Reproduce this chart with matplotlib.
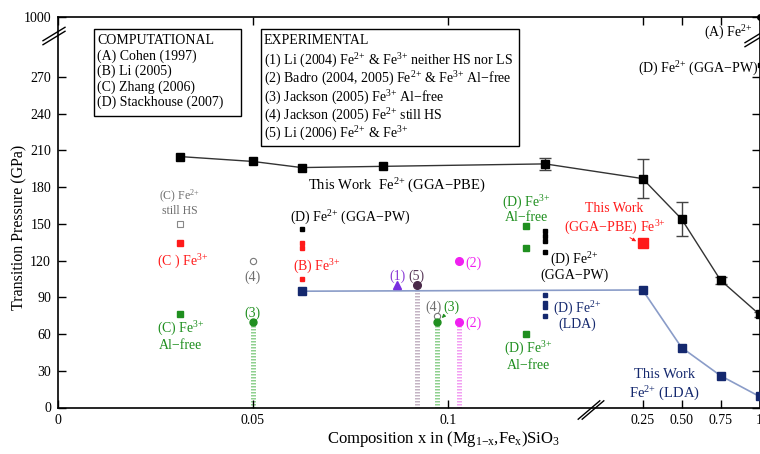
import numpy as np
import matplotlib
matplotlib.use('Agg')
import matplotlib.pyplot as plt
from matplotlib.patches import Rectangle

plt.rcParams['font.family'] = 'Liberation Serif'
plt.rcParams['mathtext.fontset'] = 'custom'
plt.rcParams['mathtext.rm'] = 'Liberation Serif'
plt.rcParams['mathtext.it'] = 'Liberation Serif:italic'
plt.rcParams['mathtext.bf'] = 'Liberation Serif:bold'
plt.rcParams['font.size'] = 10

# this work, GGA-PBE Fe2+ (with error bars)
pbe_x = [1/32, 0.05, 1/16, 1/12, 0.125, 0.25, 0.5, 0.75, 1.0]
pbe_y = [205, 201, 196, 197, 199, 187, 154, 104, 76]
pbe_err = [0, 0, 0, 0, 5, 16, 14, 3, 2]
# this work, LDA Fe2+
lda_x = [1/16, 0.25, 0.5, 0.75, 1.0]
lda_y = [95, 96, 49, 26, 9]
# this work, GGA-PBE Fe3+
pbe3_x = [0.25]
pbe3_y = [134]

# computational literature
cohen_x = [1.0]
cohen_y = [1000]
li05_x = [1/16, 1/16, 1/16]
li05_y = [134, 130, 105]
zhang_hs_x = [1/32]
zhang_hs_y = [150]
zhang_fe3_x = [1/32]
zhang_fe3_y = [134]
zhang_al_x = [1/32]
zhang_al_y = [76]
stack_pw_x = [1/16, 0.125, 0.125, 0.125, 0.125, 1.0]
stack_pw_y = [146, 144, 140, 136, 127, 280]
stack_lda_x = [0.125, 0.125, 0.125, 0.125]
stack_lda_y = [92, 85, 82, 75]
stack_fe3_x = [0.12, 0.12, 0.12]
stack_fe3_y = [148, 130, 60]

# experiments
exp1_x = [0.087]
exp1_y = [100]
exp2_x = [0.103, 0.103]
exp2_y = [120, 70]
exp3_x = [0.05, 0.0972]
exp3_y = [70, 70]
exp4_x = [0.05, 0.0972]
exp4_y = [120, 75]
exp5_x = [0.092]
exp5_y = [100]

x_ticks = [0, 0.05, 0.1, 0.25, 0.5, 0.75, 1.0]
x_ticklabels = ['0', '0.05', '0.1', '0.25', '0.50', '0.75', '1']
y_ticks = [0, 30, 60, 90, 120, 150, 180, 210, 240, 270, 1000]
y_ticklabels = ['0', '30', '60', '90', '120', '150', '180', '210', '240', '270', '1000']

RED = '#ff1a1a'
GREEN = '#1f8f1f'
NAVY = '#14286e'
MAGENTA = '#f020f0'
GRAY = '#6e6e6e'

FE2 = 'Fe$^{2{+}}$'
FE3 = 'Fe$^{3{+}}$'

# broken axes as piecewise scales
XB = 0.1364


def fwd_x(x):
    x = np.asarray(x, dtype=float)
    mid = XB + (x - XB) * (0.15 - XB) / (0.25 - XB)
    hi = 0.15 + (x - 0.25) * 0.04
    return np.where(x <= XB, x, np.where(x < 0.25, mid, hi))


def inv_x(u):
    u = np.asarray(u, dtype=float)
    mid = XB + (u - XB) * (0.25 - XB) / (0.15 - XB)
    hi = 0.25 + (u - 0.15) / 0.04
    return np.where(u <= XB, u, np.where(u < 0.15, mid, hi))


def fwd_y(y):
    y = np.asarray(y, dtype=float)
    return np.where(y <= 300, y, 300 + (y - 300) * 19 / 700)


def inv_y(v):
    v = np.asarray(v, dtype=float)
    return np.where(v <= 300, v, 300 + (v - 300) * 700 / 19)


fig = plt.figure(figsize=(7.6, 4.54), dpi=100)
ax = fig.add_axes([58 / 760, 46.5 / 454, 701.5 / 760, 390.5 / 454])
ax.set_xscale('function', functions=(fwd_x, inv_x))
ax.set_yscale('function', functions=(fwd_y, inv_y))
ax.set_xlim(0, 1.0)
ax.set_ylim(0, 1000)

# hatched bars under experimental points
band = dict(linewidth=3.6, linestyles=(0, (0.3, 0.3)), zorder=1)
ax.vlines(exp3_x, 0, exp3_y, colors='#8fd08f', **band)
ax.vlines(exp2_x[1:], 0, exp2_y[1:], colors='#f2a0f2', **band)
ax.vlines(exp5_x, 0, exp5_y, colors='#c4b4c4', **band)

# this work
ax.plot(pbe_x, pbe_y, '-', color='#333333', lw=1, zorder=3, clip_on=False)
ax.plot(pbe_x, pbe_y, 's', color='black', ms=6, zorder=4, clip_on=False)
ex = [x for x, e in zip(pbe_x, pbe_err) if e > 0]
ey = [y for y, e in zip(pbe_y, pbe_err) if e > 0]
ee = [e for e in pbe_err if e > 0]
ax.errorbar(ex, ey, yerr=ee, fmt='none', ecolor='#444444', elinewidth=1,
            capsize=4.5, capthick=1, zorder=3, clip_on=False)
ax.plot(lda_x, lda_y, '-', color='#8a9cc8', lw=1.2, zorder=3, clip_on=False)
ax.plot(lda_x, lda_y, 's', color=NAVY, ms=6, zorder=4, clip_on=False)
ax.plot(pbe3_x, pbe3_y, 's', color=RED, ms=7, zorder=4)

# computational points
ax.plot(cohen_x, cohen_y, 'o', color='black', ms=4, clip_on=False, zorder=5)
ax.plot(li05_x, li05_y, 's', color=RED, ms=3.5, lw=0)
ax.plot(zhang_hs_x, zhang_hs_y, 's', mfc='white', mec='#888888', ms=4, mew=0.8)
ax.plot(zhang_fe3_x, zhang_fe3_y, 's', color=RED, ms=4)
ax.plot(zhang_al_x, zhang_al_y, 's', color=GREEN, ms=4)
ax.plot(stack_pw_x, stack_pw_y, 's', color='black', ms=2.8, clip_on=False)
ax.plot(stack_lda_x, stack_lda_y, 's', color=NAVY, ms=2.8)
ax.plot(stack_fe3_x, stack_fe3_y, 's', color=GREEN, ms=4)

# experimental points
ax.plot(exp1_x, exp1_y, '^', color='#7a2ee0', ms=5.5, zorder=4)
ax.plot(exp5_x, exp5_y, 'o', color='#4a2a4a', ms=5.5, zorder=4)
ax.plot(exp2_x, exp2_y, 'o', color=MAGENTA, ms=5.5, zorder=4)
ax.plot(exp4_x, exp4_y, 'o', mfc='white', mec='#777777', ms=4.5, mew=0.8, zorder=4)
ax.plot(exp3_x, exp3_y, 'o', color=GREEN, ms=5, zorder=5)


def label(x, y, lines, color, fs=10, ha='center', step=11.5):
    for i, line in enumerate(lines):
        ax.annotate(line, xy=(x, y), xytext=(0, -i * step), textcoords='offset points',
                    ha=ha, va='baseline', color=color, fontsize=fs)


label(1/32, 169.5, ['(C) ' + FE2, 'still HS'], GRAY, fs=8.5, step=10)
label(0.032, 115.4, ['(C ) ' + FE3], RED)
label(0.0315, 61.2, ['(C) ' + FE3, 'Al\u2212free'], GREEN)
label(0.05, 103.6, ['(4)'], GRAY)
label(0.05, 74.0, ['(3)'], GREEN)
label(0.0595, 152, ['(D) ' + FE2 + ' (GGA\u2212PW)'], 'black', ha='left')
label(0.0664, 111.4, ['(B) ' + FE3], RED)
label(0.0641, 177.9, ['This Work  ' + FE2 + ' (GGA\u2212PBE)'], 'black', fs=10.5, ha='left')
label(0.0871, 104.4, ['(1)'], '#8a3ad6')
label(0.0921, 104.0, ['(5)'], '#5a3a5a')
label(0.0964, 79.1, ['(4)'], GRAY)
label(0.1009, 79.1, ['(3)'], GREEN)
label(0.1046, 115.3, ['(2)'], MAGENTA, ha='left')
label(0.1046, 65.5, ['(2)'], MAGENTA, ha='left')
label(0.1202, 163.6, ['(D) ' + FE3, 'Al\u2212free'], GREEN, step=10)
label(0.1326, 117.2, ['(D) ' + FE2, '(GGA\u2212PW)'], 'black', step=11)
label(0.1333, 77.3, ['(D) ' + FE2, '(LDA)'], NAVY, step=10.5)
label(0.1208, 44.6, ['(D) ' + FE3, 'Al\u2212free'], GREEN, step=11.5)
label(0.190, 159.3, ['This Work', '(GGA\u2212PBE) ' + FE3], RED, step=14)
label(0.391, 24.2, ['This Work', FE2 + ' (LDA)'], NAVY, fs=10.5, step=14.5)
label(0.801, 407, ['(A) ' + FE2], 'black')
label(0.609, 273.1, ['(D) ' + FE2 + ' (GGA\u2212PW)'], 'black')

ax.annotate('', xy=(0.098, 71.4), xytext=(0.0997, 77.1),
            arrowprops=dict(arrowstyle='-|>', color=GREEN, lw=0.7, mutation_scale=5))
ax.annotate('', xy=(0.2414, 134.6), xytext=(0.2178, 139.9),
            arrowprops=dict(arrowstyle='-|>', color=RED, lw=0.7, mutation_scale=5))

# legend-like boxes
ax.add_patch(Rectangle((0.0517, 0.7465), 0.2087, 0.222, transform=ax.transAxes,
                       fill=False, lw=1, ec='black'))
ax.add_patch(Rectangle((0.2898, 0.6704), 0.3678, 0.2981, transform=ax.transAxes,
                       fill=False, lw=1, ec='black'))
comp_lines = ['COMPUTATIONAL', '(A) Cohen (1997)', '(B) Li (2005)',
              '(C) Zhang (2006)', '(D) Stackhouse (2007)']
comp_base = [0.9301, 0.8899, 0.8507, 0.8113, 0.7729]
for t, yb in zip(comp_lines, comp_base):
    ax.text(0.0556, yb, t, transform=ax.transAxes, va='baseline', ha='left', fontsize=10)
exp_lines = ['EXPERIMENTAL',
             '(1) Li (2004) ' + FE2 + ' & ' + FE3 + ' neither HS nor LS',
             '(2) Badro (2004, 2005) ' + FE2 + ' & ' + FE3 + ' Al\u2212free',
             '(3) Jackson (2005) ' + FE3 + ' Al\u2212free',
             '(4) Jackson (2005) ' + FE2 + ' still HS',
             '(5) Li (2006) ' + FE2 + ' & ' + FE3]
exp_base = [0.9301, 0.8763, 0.8302, 0.7831, 0.7362, 0.6894]
for t, yb in zip(exp_lines, exp_base):
    ax.text(0.293, yb, t, transform=ax.transAxes, va='baseline', ha='left', fontsize=10)

# axes
ax.set_xticks(x_ticks)
ax.set_xticklabels(x_ticklabels)
ax.set_yticks(y_ticks)
ax.set_yticklabels(y_ticklabels)
ax.minorticks_off()
ax.tick_params(direction='in', length=6, width=1, top=True, right=True,
               labelsize=10, pad=5)
for s in ax.spines.values():
    s.set_linewidth(1.2)
ax.set_ylabel('Transition Pressure (GPa)', fontsize=11.5)
ax.set_xlabel('Composition x in (Mg$_{\\mathrm{1{-}x}}$,Fe$_{\\mathrm{x}}$)SiO$_3$', fontsize=12)
ax.yaxis.set_label_coords(-0.043, 0.46)
ax.xaxis.set_label_coords(0.55, -0.055)


# break marks, given in pixels
def px2ax(px, py):
    return (px - 58) / 701.5, (407.5 - py) / 390.5


def break_mark(cx, cy, hx, hy, ox, oy):
    for s in (-1, 1):
        x0, y0 = px2ax(cx + s * ox - hx, cy + s * oy - hy)
        x1, y1 = px2ax(cx + s * ox + hx, cy + s * oy + hy)
        ax.plot([x0, x1], [y0, y1], transform=ax.transAxes, color='black',
                lw=1, clip_on=False, zorder=6)


break_mark(54, 36, 11, -6.7, 0, 2)
break_mark(756, 38, 11, -6.7, 0, 2)
break_mark(591, 410, 10.8, -9.2, 2, 0)

fig.savefig('out.png', dpi=100)
